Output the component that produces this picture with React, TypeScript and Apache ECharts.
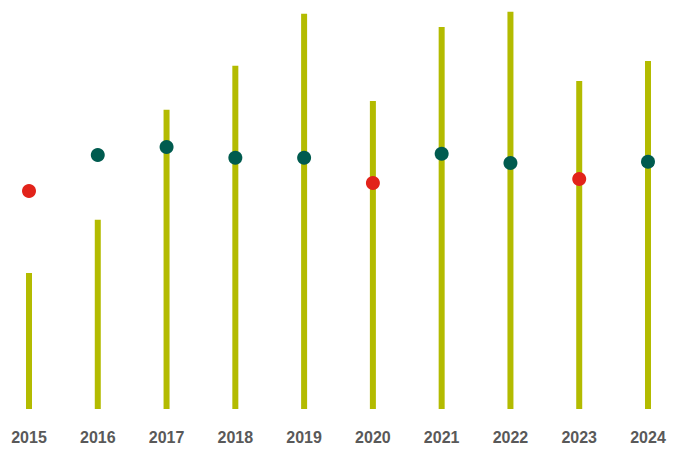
import React, { useEffect, useRef } from "react";
import * as echarts from "echarts";

const years = ["2015", "2016", "2017", "2018", "2019", "2020", "2021", "2022", "2023", "2024"];
const barValues = [34, 47.3, 74.8, 85.8, 98.8, 77, 95.5, 99.3, 82, 87];
const dotValues = [54.5, 63.5, 65.5, 62.8, 62.8, 56.5, 63.8, 61.5, 57.5, 61.8];
const dotFlags = [true, false, false, false, false, true, false, false, true, false];

const BAR_COLOR = "#B3BB00";
const TEAL = "#005B4F";
const RED = "#E2231A";

export default function App() {
  const ref = useRef<HTMLDivElement>(null);
  useEffect(() => {
    if (!ref.current) return;
    const chart = echarts.init(ref.current, undefined, { renderer: "svg" });
    chart.setOption({
      animation: false,
      grid: { left: 29, right: 42, top: 9, bottom: 41 },
      xAxis: {
        type: "category",
        data: years,
        boundaryGap: false,
        axisLine: { show: false },
        axisTick: { show: false },
        axisLabel: {
          color: "#595959",
          fontFamily: "'Liberation Sans', Arial, sans-serif",
          fontWeight: "bold",
          fontSize: 16,
          margin: 20,
        },
      },
      yAxis: {
        type: "value",
        min: 0,
        max: 100,
        show: false,
      },
      series: [
        {
          type: "bar",
          data: barValues,
          barWidth: 6,
          itemStyle: { color: BAR_COLOR },
          z: 1,
        },
        {
          type: "scatter",
          symbol: "circle",
          symbolSize: 14,
          data: dotValues.map((v, i) => ({
            value: v,
            itemStyle: { color: dotFlags[i] ? RED : TEAL, opacity: 1 },
          })),
          z: 3,
        },
      ],
    });
    return () => chart.dispose();
  }, []);
  return <div ref={ref} style={{ width: 690, height: 450, position: "absolute", left: 0, top: 0 }} />;
}
